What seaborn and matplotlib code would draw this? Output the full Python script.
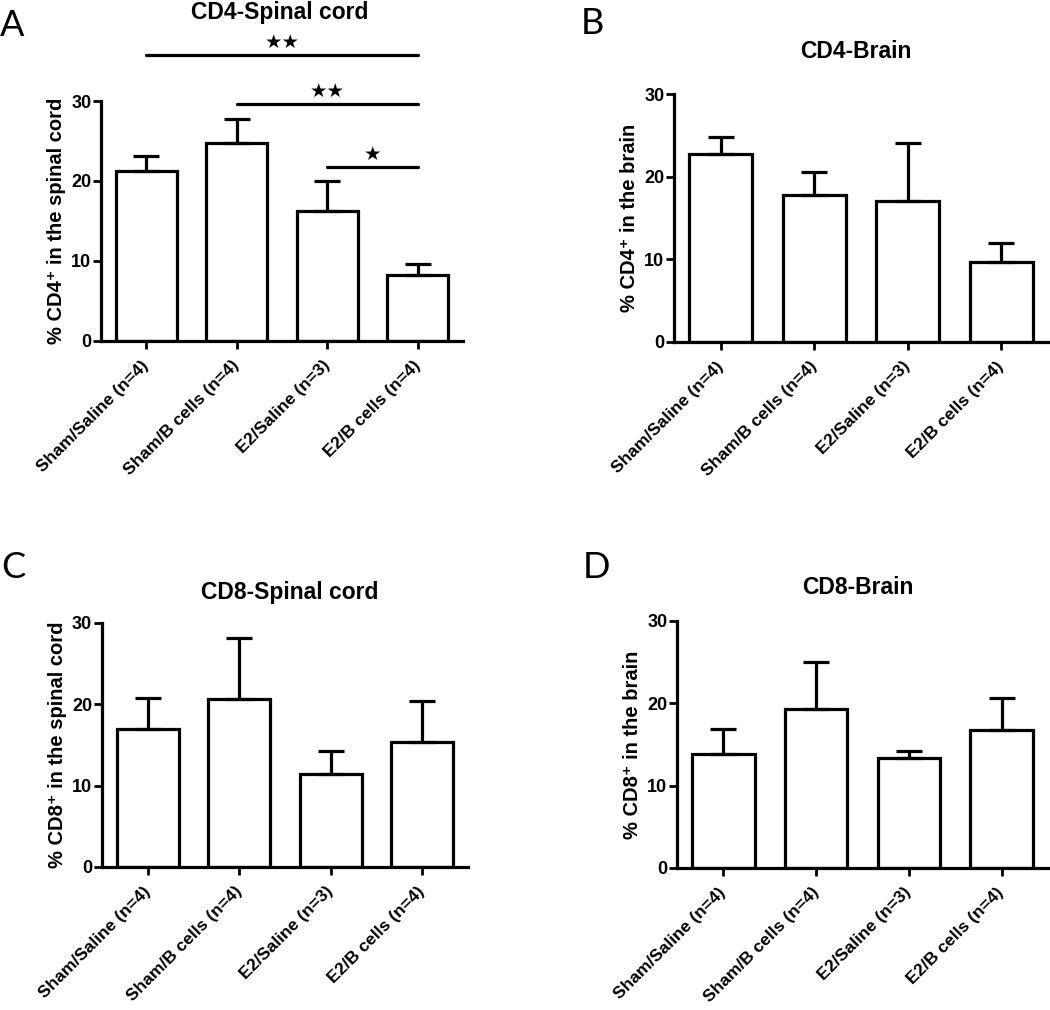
import numpy as np
import pandas as pd
import matplotlib
matplotlib.use('Agg')
import matplotlib.pyplot as plt
import seaborn as sns

groups = ['Sham/Saline (n=4)', 'Sham/B cells (n=4)', 'E2/Saline (n=3)', 'E2/B cells (n=4)']

cd4_sc_mean = [21.2, 24.7, 16.3, 8.3]
cd4_sc_sem = [1.9, 3.05, 3.7, 1.3]
cd4_br_mean = [22.7, 17.8, 17.1, 9.7]
cd4_br_sem = [2.1, 2.8, 7.0, 2.3]
cd8_sc_mean = [17.0, 20.7, 11.4, 15.4]
cd8_sc_sem = [3.8, 7.5, 2.8, 5.0]
cd8_br_mean = [13.8, 19.3, 13.4, 16.8]
cd8_br_sem = [3.1, 5.7, 0.85, 3.8]

# significance brackets in panel A (group i vs E2/B cells)
sig_pairs = [(0, 3), (1, 3), (2, 3)]
sig_labels = ['\u2605\u2605', '\u2605\u2605', '\u2605']
sig_heights = [35.7, 29.6, 21.7]

sns.set_style('ticks')
plt.rcParams['font.family'] = ['Liberation Sans', 'DejaVu Sans']
plt.rcParams['font.weight'] = 'bold'
for k in ['text.color', 'axes.labelcolor', 'xtick.color', 'ytick.color', 'axes.edgecolor']:
    plt.rcParams[k] = 'black'

fig = plt.figure(figsize=(10.5, 10.1), dpi=100)

panels = [
    ('A', 'CD4-Spinal cord', '% CD4\u207a in the spinal cord', cd4_sc_mean, cd4_sc_sem,
     [0.0962, 0.6624, 0.3448, 0.2376], (0, 25), (280, 12)),
    ('B', 'CD4-Brain', '% CD4\u207a in the brain', cd4_br_mean, cd4_br_sem,
     [0.6419, 0.6614, 0.3562, 0.2455], (581, 23), (856, 52)),
    ('C', 'CD8-Spinal cord', '% CD8\u207a in the spinal cord', cd8_sc_mean, cd8_sc_sem,
     [0.0971, 0.1416, 0.3486, 0.2416], (1, 567), (290, 593)),
    ('D', 'CD8-Brain', '% CD8\u207a in the brain', cd8_br_mean, cd8_br_sem,
     [0.6448, 0.1406, 0.3533, 0.2446], (583, 568), (858, 587)),
]

W, H = 1050, 1010
lw = 2.3

for letter, title, ylab, means, sems, rect, lpos, tpos in panels:
    ax = fig.add_axes(rect)
    df = pd.DataFrame({'group': groups, 'value': means})
    sns.barplot(data=df, x='group', y='value', color='white', saturation=1,
                edgecolor='black', linewidth=lw, width=0.675, errorbar=None, ax=ax)
    ax.errorbar(np.arange(len(groups)), means, yerr=[np.zeros(len(sems)), sems],
                fmt='none', ecolor='black', elinewidth=lw, capsize=9.5, capthick=lw, zorder=1)
    ax.set_ylim(0, 30)
    ax.set_xlim(-0.5, 3.5)
    ax.set_yticks([0, 10, 20, 30])
    ax.set_xlabel('')
    ax.set_ylabel(ylab, fontsize=14.5, fontweight='bold', labelpad=4)
    sns.despine(ax=ax)
    for s in ['left', 'bottom']:
        ax.spines[s].set_linewidth(lw)
    ax.tick_params(axis='both', direction='out', length=6, width=2, labelsize=13, pad=1)
    ax.set_xticks(range(len(groups)))
    ax.set_xticklabels(groups, rotation=45, ha='right', va='center',
                       rotation_mode='anchor', fontsize=12.5, fontweight='bold')
    ax.tick_params(axis='x', pad=10)
    for t in ax.get_yticklabels():
        t.set_fontweight('bold')

    fig.text(lpos[0] / W, 1 - lpos[1] / H, letter, fontsize=26, fontweight='normal',
             family='Lato', ha='left', va='center')
    fig.text(tpos[0] / W, 1 - tpos[1] / H, title, fontsize=16.5, fontweight='bold',
             ha='center', va='center')

    if letter == 'A':
        for (i, j), lab, h in zip(sig_pairs, sig_labels, sig_heights):
            ax.plot([i, j], [h, h], color='black', lw=lw, clip_on=False)
            ax.text((i + j) / 2, h + 1.6, lab, ha='center', va='center', fontsize=14,
                    family='DejaVu Sans', clip_on=False)

fig.savefig('out.png', dpi=100)
